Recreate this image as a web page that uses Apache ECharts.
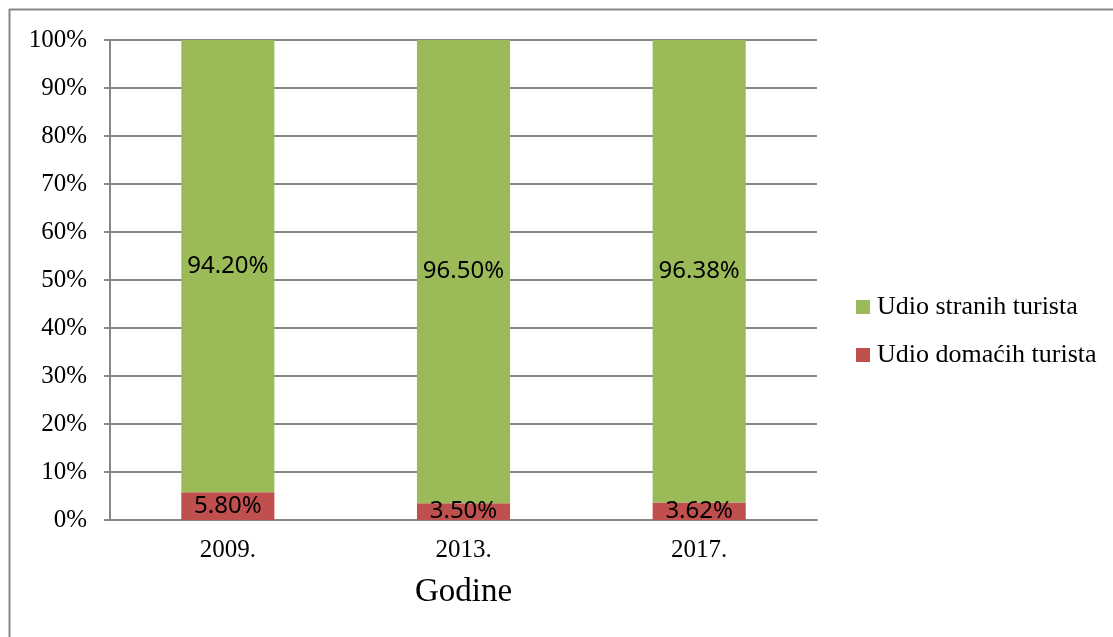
<!DOCTYPE html>
<html>
<head>
<meta charset="utf-8">
<script src="https://cdn.jsdelivr.net/npm/echarts@6/dist/echarts.min.js"></script>
<style>
html,body{margin:0;padding:0;background:#fff;}
#chart{width:1113px;height:637px;}
</style>
</head>
<body>
<div id="chart"></div>
<script>
const categories = ['2009.', '2013.', '2017.'];
const domaci = [5.80, 3.50, 3.62];
const strani = [94.20, 96.50, 96.38];
const yTicks = [0, 10, 20, 30, 40, 50, 60, 70, 80, 90, 100];
const seriesNames = ['Udio domaćih turista', 'Udio stranih turista'];
const axisName = 'Godine';

const chart = echarts.init(document.getElementById('chart'));
const serif = '"Liberation Serif", "Times New Roman", serif';
const labelFont = '"Noto Sans", "DejaVu Sans", sans-serif';

chart.setOption({
  animation: false,
  backgroundColor: '#fff',
  graphic: [
    { type: 'line', shape: { x1: 9, y1: 9.5, x2: 1113, y2: 9.5 }, style: { stroke: '#878787', lineWidth: 2 } },
    { type: 'line', shape: { x1: 9.5, y1: 9, x2: 9.5, y2: 637 }, style: { stroke: '#878787', lineWidth: 2 } }
  ],
  grid: { left: 110, right: 296, top: 40, bottom: 117, containLabel: false },
  legend: {
    orient: 'vertical',
    left: 856,
    top: 294,
    padding: 0,
    data: [seriesNames[1], seriesNames[0]],
    icon: 'rect',
    itemWidth: 14,
    itemHeight: 14,
    itemGap: 22,
    textStyle: { fontFamily: serif, fontSize: 26, color: '#000', padding: [0, 0, 0, 2] }
  },
  xAxis: {
    type: 'category',
    data: categories,
    name: axisName,
    nameLocation: 'middle',
    nameGap: 56,
    nameTextStyle: { fontFamily: serif, fontSize: 33, color: '#000' },
    axisLine: { lineStyle: { color: '#878787', width: 2 } },
    axisTick: { show: false },
    axisLabel: { fontFamily: serif, fontSize: 25, color: '#000', margin: 18 }
  },
  yAxis: {
    type: 'value',
    min: yTicks[0],
    max: yTicks[yTicks.length - 1],
    interval: 10,
    axisLine: { show: true, lineStyle: { color: '#878787', width: 2 } },
    axisTick: { show: true, length: 6, lineStyle: { color: '#878787', width: 2 } },
    splitLine: { lineStyle: { color: '#878787', width: 2 } },
    axisLabel: { fontFamily: serif, fontSize: 25, color: '#000', margin: 23, formatter: v => v + '%' }
  },
  series: [
    {
      name: seriesNames[0],
      type: 'bar',
      stack: 'total',
      data: domaci,
      barWidth: '39.5%',
      itemStyle: { color: '#C0504D' },
      label: {
        show: true, position: 'inside',
        fontFamily: labelFont, fontSize: 24, color: '#000',
        formatter: p => p.value.toFixed(2) + '%'
      }
    },
    {
      name: seriesNames[1],
      type: 'bar',
      stack: 'total',
      data: strani,
      barWidth: '39.5%',
      itemStyle: { color: '#9BBB59' },
      label: {
        show: true, position: 'inside',
        fontFamily: labelFont, fontSize: 24, color: '#000',
        formatter: p => p.value.toFixed(2) + '%'
      }
    }
  ]
});
</script>
</body>
</html>
